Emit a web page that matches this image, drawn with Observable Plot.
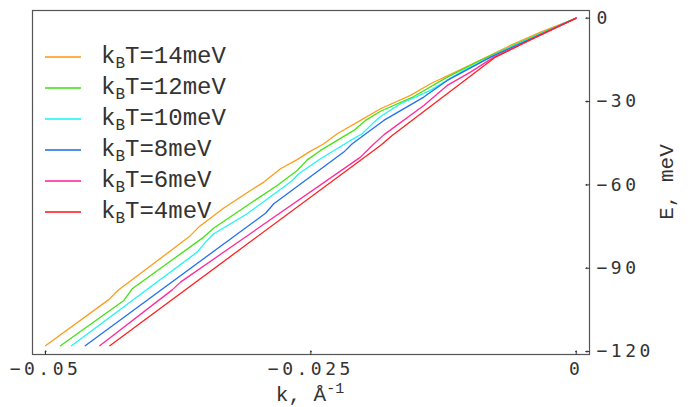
<!DOCTYPE html>
<html>
<head>
<meta charset="utf-8">
<script src="https://cdn.jsdelivr.net/npm/d3@7"></script>
<script src="https://cdn.jsdelivr.net/npm/@observablehq/plot@0.6"></script>
<style>
  html, body { margin: 0; padding: 0; background: #fff; }
  #wrap { position: relative; width: 693px; height: 407px; overflow: hidden; }
  #legend { position: absolute; left: 45px; top: 41px; font-family: "Liberation Mono", monospace; font-size: 24px; color: #333; }
  .row { height: 31px; display: flex; align-items: center; white-space: nowrap; }
  .sw { display: inline-block; width: 36px; height: 0; border-top: 2px solid; margin-right: 20px; opacity: 0.8; }
  .row sub { font-size: 16px; vertical-align: -5px; line-height: 0; }
  #xlab { position: absolute; left: 0; width: 620px; text-align: center; top: 385px; line-height: 21px; font-family: "Liberation Mono", monospace; font-size: 21px; color: #333; }
  #xlab sup { font-size: 15px; vertical-align: 8px; line-height: 0; }
  #ylab { position: absolute; left: 667px; top: 182px; transform: translate(-50%, -50%) rotate(-90deg); font-family: "Liberation Mono", monospace; font-size: 21px; color: #333; white-space: nowrap; }
  svg text { letter-spacing: 3.5px; }
</style>
</head>
<body>
<div id="wrap"></div>
<script>
const series = ["14meV", "12meV", "10meV", "8meV", "6meV", "4meV"];
const colors = ["#ff9c1a", "#44e314", "#1ff5f5", "#2270f0", "#ff2a9a", "#ff1f1f"];
const xTicks = [-0.05, -0.025, 0];
const yTicks = [0, -30, -60, -90, -120];

const k14 = [-0.05000,-0.04404,-0.04319,-0.03650,-0.03556,-0.03320,-0.03069,-0.02943,-0.02786,-0.02629,-0.02519,-0.02378,-0.02252,-0.02032,-0.01844,-0.01561,-0.01373,-0.00996,-0.00588,-0.00336,0];
const E14 = [-117.9,-101.3,-98.0,-78.8,-75.2,-68.3,-62.0,-59.0,-54.2,-50.9,-48.2,-45.2,-41.6,-36.8,-32.6,-27.8,-23.6,-16.8,-9.2,-5.0,0];

const k12 = [-0.04859,-0.04262,-0.04183,-0.03509,-0.03414,-0.03100,-0.02817,-0.02629,-0.02534,-0.02409,-0.02252,-0.02095,-0.01985,-0.01844,-0.01530,-0.01215,-0.00902,-0.00525,0];
const E12 = [-117.9,-101.6,-97.4,-78.8,-75.5,-67.4,-60.2,-54.8,-51.0,-47.6,-44.0,-40.4,-36.8,-33.5,-28.2,-21.2,-15.2,-8.6,0];

const k10 = [-0.04755,-0.03571,-0.03493,-0.03414,-0.03100,-0.02692,-0.02614,-0.02409,-0.02127,-0.02016,-0.01907,-0.01844,-0.01655,-0.01373,-0.01059,-0.00650,0];
const E10 = [-117.9,-84.2,-80.6,-77.6,-70.4,-59.0,-56.0,-50.6,-44.0,-41.6,-37.5,-35.4,-30.8,-26.0,-18.8,-11.0,0];

const k8 = [-0.04626,-0.02927,-0.02849,-0.02190,-0.02110,-0.01813,-0.01436,-0.01215,-0.00807,0];
const E8 = [-117.9,-70.2,-66.8,-48.2,-45.2,-36.8,-28.4,-22.4,-14.0,0];

const k6 = [-0.04489,-0.03806,-0.03728,-0.02032,-0.01922,-0.01813,-0.01436,-0.01215,-0.00996,-0.00776,0];
const E6 = [-117.9,-97.8,-95.0,-50.0,-45.8,-42.0,-31.4,-24.2,-19.4,-14.0,0];

const k4 = [-0.04394,-0.01844,-0.01734,-0.00760,-0.00431,0];
const E4 = [-117.9,-45.8,-42.2,-14.0,-7.8,0];

const ks = [k14, k12, k10, k8, k6, k4];
const Es = [E14, E12, E10, E8, E6, E4];
const rows = [];
series.forEach((s, i) => ks[i].forEach((k, j) => rows.push({series: s, k, E: Es[i][j]})));

const fmt = (d) => String(d).replace("-", "\u2212");
const tickFont = {fontFamily: "DejaVu Sans Mono", fontSize: 18};

const chart = Plot.plot({
  width: 693,
  height: 407,
  marginLeft: 32,
  marginRight: 104,
  marginTop: 10,
  marginBottom: 53,
  style: {background: "#fff", color: "#333"},
  x: {domain: [-0.051225, 0.001253]},
  y: {domain: [-121.06, 2.772]},
  color: {domain: series, range: colors},
  marks: [
    Plot.line(rows, {x: "k", y: "E", z: "series", stroke: "series", strokeWidth: 1.3}),
    Plot.frame({stroke: "#555", strokeWidth: 1.2}),
    Plot.vectorX(xTicks, {frameAnchor: "bottom", length: 3.5, rotate: 0, anchor: "start", stroke: "#333", strokeWidth: 1}),
    Plot.vectorY(yTicks, {frameAnchor: "right", length: 3.5, rotate: -90, anchor: "start", stroke: "#333", strokeWidth: 1}),
    Plot.axisX({ticks: xTicks, tickFormat: fmt, tickSize: 0, tickPadding: 8, label: null, ...tickFont}),
    Plot.axisY({ticks: yTicks, tickFormat: fmt, anchor: "right", tickSize: 0, tickPadding: 7, label: null, ...tickFont})
  ]
});

const wrap = document.getElementById("wrap");
wrap.appendChild(chart);

const legend = document.createElement("div");
legend.id = "legend";
series.forEach((s, i) => {
  const row = document.createElement("div");
  row.className = "row";
  const sw = document.createElement("span");
  sw.className = "sw";
  sw.style.borderTopColor = colors[i];
  const t = document.createElement("span");
  t.innerHTML = "k<sub>B</sub>T=" + s;
  row.appendChild(sw);
  row.appendChild(t);
  legend.appendChild(row);
});
wrap.appendChild(legend);

const xl = document.createElement("div");
xl.id = "xlab";
xl.innerHTML = "k, Å<sup>-1</sup>";
wrap.appendChild(xl);

const yl = document.createElement("div");
yl.id = "ylab";
yl.textContent = "E, meV";
wrap.appendChild(yl);
</script>
</body>
</html>
